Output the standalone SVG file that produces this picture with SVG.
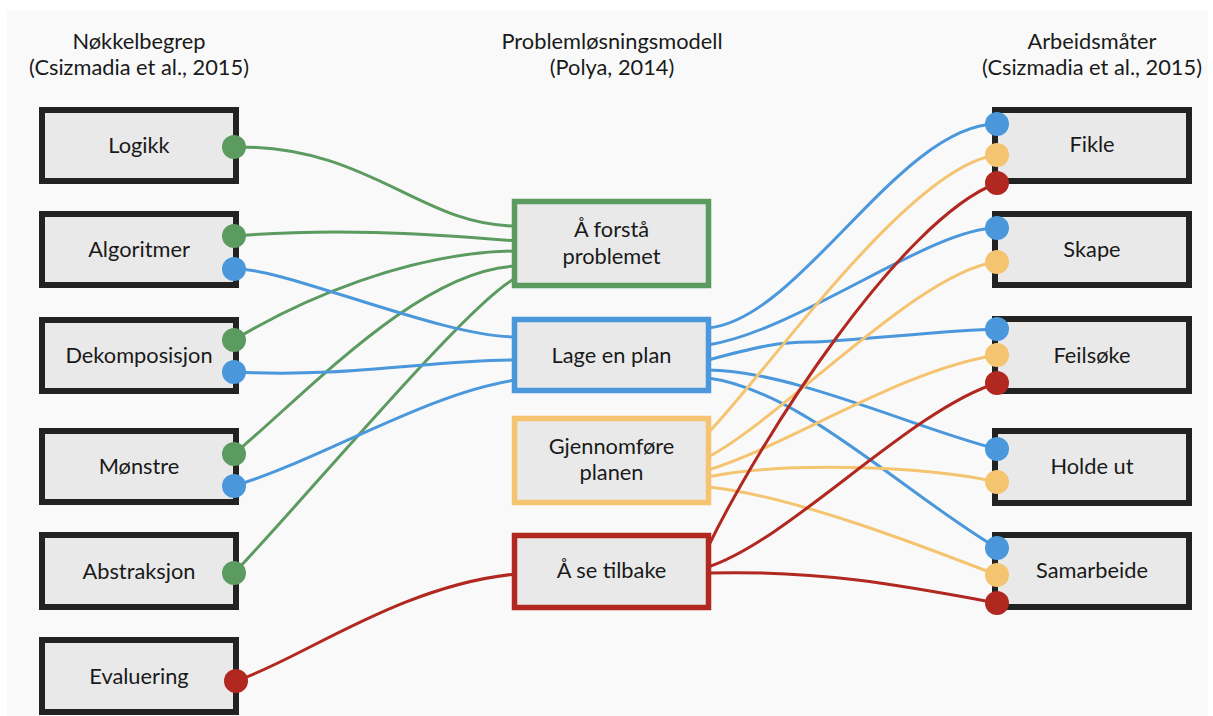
<svg xmlns="http://www.w3.org/2000/svg" width="1213" height="716" viewBox="0 0 1213 716">
  <style>
    .bg { fill: #f9f9f9; }
    .txt { font-family: Lato, "Liberation Sans", sans-serif; font-size: 21.8px; fill: #1a1a1a; text-anchor: middle; }
    .box { fill: #e9e9e9; stroke: #222222; stroke-width: 6; }
    .mbox { fill: #e9e9e9; stroke-width: 5.5; }
    .c { fill: none; stroke-width: 3; stroke-linecap: round; }
    .g { stroke: #5b9b60; }
    .b { stroke: #4a98db; }
    .y { stroke: #f5c470; }
    .r { stroke: #b0281f; }
    .dg { fill: #5b9b60; }
    .db { fill: #4a98db; }
    .dy { fill: #f5c470; }
    .dr { fill: #b0281f; }
  </style>
  <rect width="1213" height="716" fill="#ffffff"/>
  <rect class="bg" x="7" y="10" width="1201" height="706"/>

  <!-- column headings -->
  <g id="heading-left">
    <text class="txt" x="139" y="49">Nøkkelbegrep</text>
    <text class="txt" x="139" y="75">(Csizmadia et al., 2015)</text>
  </g>
  <g id="heading-middle">
    <text class="txt" x="612" y="49">Problemløsningsmodell</text>
    <text class="txt" x="612" y="75">(Polya, 2014)</text>
  </g>
  <g id="heading-right">
    <text class="txt" x="1092" y="49">Arbeidsmåter</text>
    <text class="txt" x="1092" y="75">(Csizmadia et al., 2015)</text>
  </g>

  <!-- connectors -->
  <g id="connectors">
    <!-- key concepts to "Å forstå problemet" -->
    <path class="c g" d="M234,147 C370,145 420,226 516,226"/>
    <path class="c g" d="M234,236 C330,228 420,233 516,241"/>
    <path class="c g" d="M234,340 C300,300 410,252 516,251"/>
    <path class="c g" d="M234,454 C310,390 420,270 516,266"/>
    <path class="c g" d="M234,573 C300,505 470,300 516,278"/>
    <!-- key concepts to "Lage en plan" -->
    <path class="c b" d="M234,269 C280,266 440,337 516,337"/>
    <path class="c b" d="M234,372 C350,378 430,360 516,360"/>
    <path class="c b" d="M234,486 C320,460 430,392 516,380"/>
    <!-- evaluation to "Å se tilbake" -->
    <path class="c r" d="M236,681 C300,660 400,585 516,574"/>

    <!-- "Lage en plan" to working methods -->
    <path class="c b" d="M708,328 C800,320 900,124 997,124"/>
    <path class="c b" d="M708,345 C800,330 930,228 997,228"/>
    <path class="c b" d="M708,360 C760,346 780,342 810,342 S950,330 997,329"/>
    <path class="c b" d="M708,370 C790,370 920,430 997,449"/>
    <path class="c b" d="M708,378 C800,390 900,490 997,548"/>
    <!-- "Gjennomføre planen" to working methods -->
    <path class="c y" d="M708,433 C765,375 910,165 997,155"/>
    <path class="c y" d="M708,457 C780,420 920,270 997,262"/>
    <path class="c y" d="M708,470 C790,445 900,370 997,355"/>
    <path class="c y" d="M708,477 C780,462 920,465 997,482"/>
    <path class="c y" d="M708,487 C790,495 920,545 997,575"/>
    <!-- "Å se tilbake" to working methods -->
    <path class="c r" d="M708,547 C760,440 900,220 997,183"/>
    <path class="c r" d="M708,567 C790,540 910,410 997,383"/>
    <path class="c r" d="M708,573 C820,570 900,585 997,603"/>
  </g>

  <!-- key concepts -->
  <g id="logikk">
    <rect class="box" x="42" y="110" width="194" height="71"/>
    <text class="txt" x="139" y="153">Logikk</text>
    <circle class="dg" cx="234" cy="147" r="12"/>
  </g>
  <g id="algoritmer">
    <rect class="box" x="42" y="214" width="194" height="71"/>
    <text class="txt" x="139" y="257">Algoritmer</text>
    <circle class="dg" cx="234" cy="236" r="12"/>
    <circle class="db" cx="234" cy="269" r="12"/>
  </g>
  <g id="dekomposisjon">
    <rect class="box" x="42" y="320" width="194" height="71"/>
    <text class="txt" x="139" y="363">Dekomposisjon</text>
    <circle class="dg" cx="234" cy="340" r="12"/>
    <circle class="db" cx="234" cy="372" r="12"/>
  </g>
  <g id="monstre">
    <rect class="box" x="42" y="431" width="194" height="71"/>
    <text class="txt" x="139" y="474">Mønstre</text>
    <circle class="dg" cx="234" cy="454" r="12"/>
    <circle class="db" cx="234" cy="486" r="12"/>
  </g>
  <g id="abstraksjon">
    <rect class="box" x="42" y="535" width="194" height="72"/>
    <text class="txt" x="139" y="579">Abstraksjon</text>
    <circle class="dg" cx="234" cy="573" r="12"/>
  </g>
  <g id="evaluering">
    <rect class="box" x="42" y="640" width="194" height="72"/>
    <text class="txt" x="139" y="684">Evaluering</text>
    <circle class="dr" cx="236" cy="681" r="12"/>
  </g>

  <!-- problem solving steps -->
  <g id="forsta">
    <rect class="mbox" x="514.5" y="201.5" width="194" height="84" stroke="#5b9b60"/>
    <text class="txt" x="611.5" y="237">Å forstå</text>
    <text class="txt" x="611.5" y="264">problemet</text>
  </g>
  <g id="plan">
    <rect class="mbox" x="514.5" y="319.5" width="194" height="71" stroke="#4a98db"/>
    <text class="txt" x="611.5" y="363">Lage en plan</text>
  </g>
  <g id="gjennomfore">
    <rect class="mbox" x="514.5" y="418.5" width="194" height="84" stroke="#f5c470"/>
    <text class="txt" x="611.5" y="454">Gjennomføre</text>
    <text class="txt" x="611.5" y="480">planen</text>
  </g>
  <g id="tilbake">
    <rect class="mbox" x="514.5" y="535.5" width="194" height="72" stroke="#b0281f"/>
    <text class="txt" x="611.5" y="578">Å se tilbake</text>
  </g>

  <!-- working methods -->
  <g id="fikle">
    <rect class="box" x="995" y="110" width="194" height="71"/>
    <text class="txt" x="1092" y="152">Fikle</text>
    <circle class="db" cx="997" cy="124" r="12"/>
    <circle class="dy" cx="997" cy="155" r="12"/>
    <circle class="dr" cx="997" cy="183" r="12"/>
  </g>
  <g id="skape">
    <rect class="box" x="995" y="214" width="194" height="71"/>
    <text class="txt" x="1092" y="257">Skape</text>
    <circle class="db" cx="997" cy="228" r="12"/>
    <circle class="dy" cx="997" cy="262" r="12"/>
  </g>
  <g id="feilsoke">
    <rect class="box" x="995" y="319" width="194" height="72"/>
    <text class="txt" x="1092" y="363">Feilsøke</text>
    <circle class="db" cx="997" cy="329" r="12"/>
    <circle class="dy" cx="997" cy="355" r="12"/>
    <circle class="dr" cx="997" cy="383" r="12"/>
  </g>
  <g id="holde-ut">
    <rect class="box" x="995" y="431" width="194" height="72"/>
    <text class="txt" x="1092" y="474">Holde ut</text>
    <circle class="db" cx="997" cy="449" r="12"/>
    <circle class="dy" cx="997" cy="482" r="12"/>
  </g>
  <g id="samarbeide">
    <rect class="box" x="995" y="535" width="194" height="72"/>
    <text class="txt" x="1092" y="578">Samarbeide</text>
    <circle class="db" cx="997" cy="548" r="12"/>
    <circle class="dy" cx="997" cy="575" r="12"/>
    <circle class="dr" cx="997" cy="603" r="12"/>
  </g>
</svg>
